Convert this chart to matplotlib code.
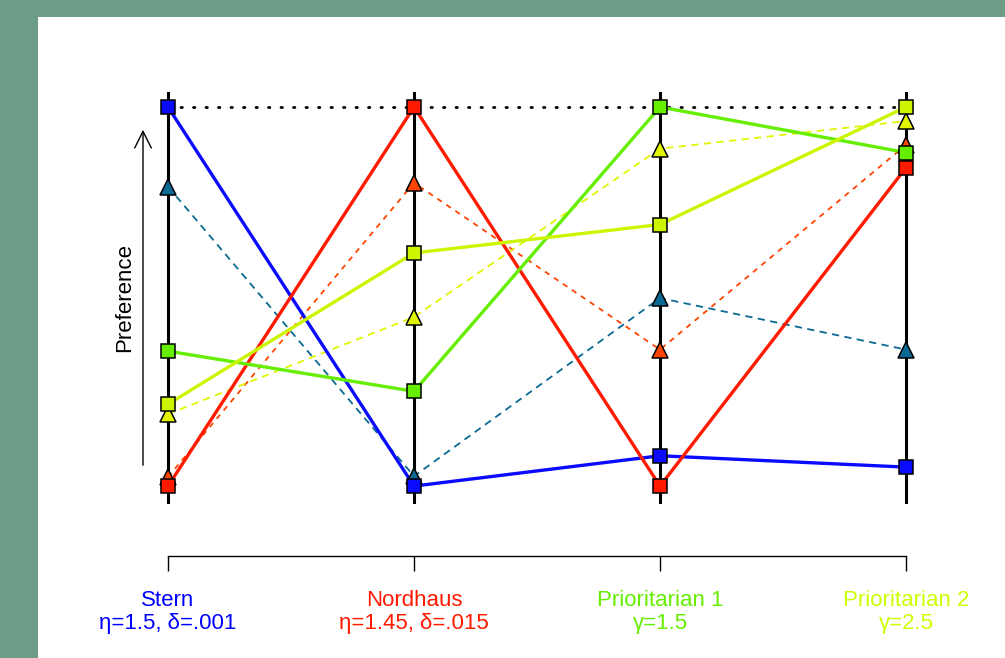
import numpy as np
import matplotlib
matplotlib.use('Agg')
import matplotlib.pyplot as plt
from matplotlib.patches import Rectangle

plt.rcParams['font.family'] = ['Liberation Sans', 'DejaVu Sans']

# criteria (x axis)
criteria = ['Stern', 'Nordhaus', 'Prioritarian 1', 'Prioritarian 2']
params = ['η=1.5, δ=.001', 'η=1.45, δ=.015', 'γ=1.5', 'γ=2.5']
crit_colors = ['#0000ff', '#ff1a00', '#66ee00', '#ccff00']

# preference of each policy under each criterion (1 = most preferred)
stern_sq = [1.0, 0.0, 0.08, 0.05]
nordhaus_sq = [0.0, 1.0, 0.0, 0.84]
prio1_sq = [0.356, 0.25, 1.0, 0.88]
prio2_sq = [0.216, 0.615, 0.69, 1.0]

teal_tri = [0.79, 0.026, 0.496, 0.36]
orange_tri = [0.024, 0.80, 0.36, 0.90]
yellow_tri = [0.19, 0.446, 0.89, 0.963]

W, H = 1005, 658
fig = plt.figure(figsize=(W / 100, H / 100), dpi=100, facecolor='#6d9c87')
fig.patches.append(Rectangle((38 / W, 0), 1 - 38 / W, (H - 17) / H,
                             transform=fig.transFigure, facecolor='white',
                             edgecolor='none', zorder=-10))

left, right = 168 / W, 906 / W
bottom, top = (H - 502) / H, (H - 93) / H
ax = fig.add_axes([left, bottom, right - left, top - bottom])
ax.set_facecolor('none')
ax.set_xlim(0, 3)
ax.set_ylim(-0.042, 1.037)
x = np.arange(4)

# vertical criterion axes
for xi in x:
    ax.axvline(xi, color='black', lw=2.2, zorder=2, clip_on=False)

# top dotted line
ax.plot(x[[0, -1]], [1, 1], color='black', lw=2, ls=(0, (0.5, 4)),
        dash_capstyle='round', zorder=1)

dashed = [(teal_tri, '#0a6a94', (0, (4, 3))),
          (orange_tri, '#ff4500', (0, (3, 3))),
          (yellow_tri, '#e2f500', (0, (4, 3)))]
for vals, c, ls in dashed:
    ax.plot(x, vals, color=c, lw=1.3, ls=ls, zorder=3, clip_on=False)

solid = [(stern_sq, '#0a0aff'), (nordhaus_sq, '#ff1a00'),
         (prio1_sq, '#66ee00'), (prio2_sq, '#ccf500')]
for vals, c in solid:
    ax.plot(x, vals, color=c, lw=2.4, zorder=4, clip_on=False)

for vals, c, ls in dashed:
    ax.plot(x, vals, ls='none', marker='^', ms=11, mfc=c, mec='black',
            mew=1.1, zorder=5, clip_on=False)
for vals, c in solid:
    ax.plot(x, vals, ls='none', marker='s', ms=10, mfc=c, mec='black',
            mew=1.1, zorder=6, clip_on=False)

# bottom axis
for s in ['left', 'right', 'top']:
    ax.spines[s].set_visible(False)
ax.spines['bottom'].set_position(('outward', 38.9))
ax.spines['bottom'].set_linewidth(1.0)
ax.set_yticks([])
ax.set_xticks(x)
ax.tick_params(axis='x', direction='out', length=10.8, width=1.0, pad=14)
ax.set_xticklabels([f'{a}\n{b}' for a, b in zip(criteria, params)], fontsize=16,
                   linespacing=1.1)
for lab, c in zip(ax.get_xticklabels(), crit_colors):
    lab.set_color(c)

# preference arrow
ax.annotate('', xy=(143 / W, (H - 127) / H), xytext=(143 / W, (H - 468) / H),
            xycoords='figure fraction', textcoords='figure fraction',
            arrowprops=dict(arrowstyle='->,head_length=1.2,head_width=0.6',
                            color='black', lw=1.0))
fig.text(125 / W, (H - 298) / H, 'Preference', rotation=90, fontsize=16,
         ha='center', va='center')

fig.savefig('out.png', dpi=100, facecolor=fig.get_facecolor())
